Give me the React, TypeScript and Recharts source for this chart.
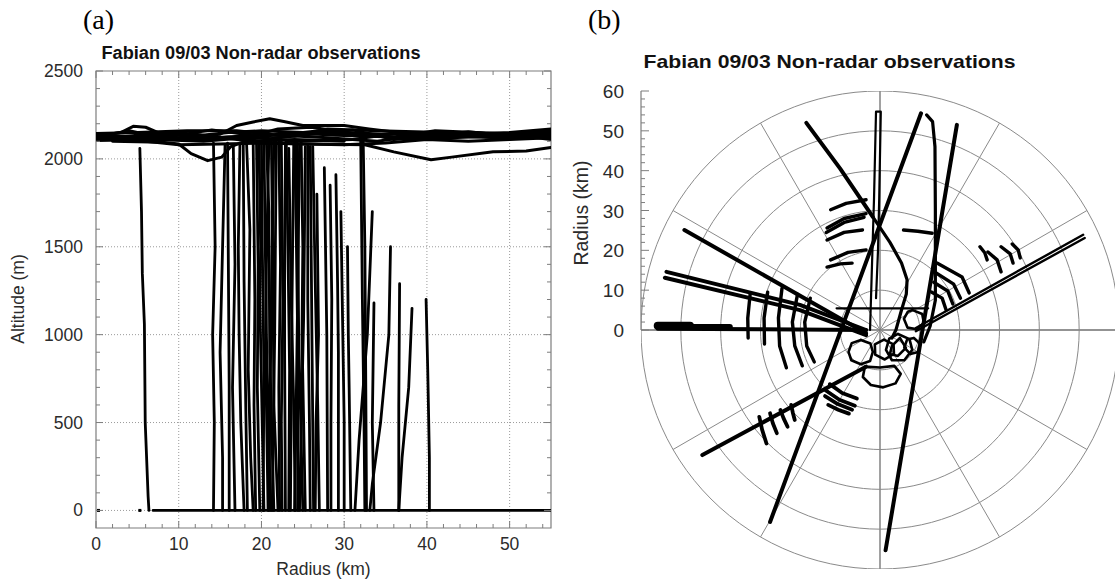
import React from "react";
import {
  ReferenceArea,
  ReferenceLine,
  Scatter,
  ScatterChart,
  XAxis,
  YAxis,
} from "recharts";

type Pt = [number, number];

// ---------- panel (a): altitude (m) against radius (km) ----------
const radiusTicks = [
  0, 2, 4, 6, 8, 10, 12, 14, 16, 18, 20, 22, 24, 26, 28, 30, 32, 34, 36, 38,
  40, 42, 44, 46, 48, 50, 52, 54,
];
const altTicks = [
  0, 100, 200, 300, 400, 500, 600, 700, 800, 900, 1000, 1100, 1200, 1300, 1400,
  1500, 1600, 1700, 1800, 1900, 2000, 2100, 2200, 2300, 2400, 2500,
];
const radiusGrid = [10, 20, 30, 40, 50];
const altGrid = [0, 500, 1000, 1500, 2000];

// flight-level legs near 2100 m
const flightLegs: Pt[][] = [
  [[0, 2130], [3, 2150], [4.5, 2185], [6, 2180], [8, 2140], [12, 2130], [16, 2150], [20, 2160], [25, 2150], [30, 2150], [35, 2140], [40, 2150], [45, 2140], [50, 2150], [55, 2170]],
  [[0, 2120], [5, 2110], [10, 2120], [15, 2140], [17, 2190], [19, 2210], [21, 2228], [23, 2210], [25, 2190], [30, 2190], [33, 2170], [40, 2130], [50, 2120], [55, 2150]],
  [[0, 2125], [4, 2160], [7, 2130], [12, 2110], [18, 2120], [22, 2170], [26, 2180], [32, 2140], [38, 2110], [44, 2125], [50, 2130], [55, 2140]],
  [[0, 2140], [6, 2100], [10, 2080], [15, 2085], [20, 2090], [25, 2085], [30, 2080], [35, 2090], [40, 2110], [45, 2100], [50, 2110], [55, 2120]],
  [[2, 2100], [8, 2095], [10, 2085], [11.5, 2030], [13.5, 1990], [15.2, 2010], [16.3, 2070], [18, 2100], [24, 2110], [30, 2100]],
  [[20, 2090], [26, 2085], [32.5, 2080], [36, 2040], [40.5, 1995], [43, 2010], [48, 2040], [52, 2045], [55, 2065]],
  [[0, 2110], [5, 2135], [10, 2150], [15, 2120], [20, 2140], [28, 2120], [34, 2100], [40, 2140], [47, 2135], [55, 2160]],
  [[0, 2115], [8, 2120], [14, 2165], [18, 2140], [24, 2130], [28, 2170], [34, 2160], [42, 2150], [48, 2120], [55, 2130]],
  [[0, 2135], [6, 2125], [12, 2140], [18, 2105], [23, 2150], [29, 2135], [36, 2125], [41, 2160], [46, 2150], [52, 2140], [55, 2155]],
  [[0, 2105], [7, 2110], [13, 2100], [19, 2125], [24, 2100], [31, 2110], [37, 2150], [42, 2115], [49, 2145], [55, 2110]],
  [[0, 2145], [5, 2150], [11, 2160], [17, 2160], [22, 2135], [27, 2160], [33, 2130], [39, 2120], [45, 2155], [51, 2125], [55, 2135]],
  [[3, 2125], [9, 2110], [16, 2125], [21, 2115], [26, 2140], [31, 2165], [36, 2110], [43, 2140], [50, 2135], [55, 2145]],
];

// dropsonde descents
const sondeProfiles: Pt[][] = [
  [[5.3, 2060], [5.5, 1700], [5.6, 1350], [5.85, 1060], [5.95, 500], [6.3, 80], [6.4, 0]],
  [[14.2, 2090], [14.4, 1500], [14.1, 1000], [14.3, 500], [14.2, 0]],
  [[15.6, 2080], [15.3, 1500], [15.0, 900], [15.3, 300], [15.3, 0]],
  [[16.6, 2070], [16.8, 1400], [16.5, 700], [16.8, 0]],
  [[17.4, 2090], [17.2, 1500], [17.3, 1000], [17.5, 500], [17.9, 0]],
  [[18.2, 2090], [18.6, 1600], [18.4, 800], [18.7, 300], [19.0, 0]],
  [[19.0, 2100], [19.2, 1200], [19.1, 600], [19.3, 0]],
  [[19.7, 2090], [19.9, 1500], [19.8, 1200], [20.3, 0]],
  [[20.3, 2100], [20.6, 1000], [20.9, 400], [21.1, 0]],
  [[20.9, 2100], [20.6, 1400], [20.5, 900], [20.8, 0]],
  [[21.2, 2100], [21.4, 1300], [21.5, 600], [22.0, 0]],
  [[21.8, 2100], [21.7, 1600], [21.6, 1000], [21.3, 0]],
  [[22.4, 2100], [22.6, 1200], [22.4, 500], [22.5, 0]],
  [[22.9, 2090], [22.8, 1300], [22.8, 900], [22.9, 0]],
  [[23.3, 2060], [23.6, 1200], [23.9, 600], [24.1, 0]],
  [[23.9, 2080], [23.7, 1200], [23.5, 0]],
  [[24.3, 2090], [24.5, 1000], [25.0, 0]],
  [[24.8, 2100], [25.0, 1500], [24.9, 1000], [25.3, 0]],
  [[25.3, 2070], [25.1, 1100], [24.6, 0]],
  [[25.9, 2070], [26.1, 1000], [26.3, 0]],
  [[26.7, 1800], [26.9, 1000], [26.6, 500], [26.5, 0]],
  [[27.6, 1950], [27.9, 1000], [28.0, 0]],
  [[29.0, 1910], [29.2, 1300], [29.3, 900], [29.3, 0]],
  [[30.4, 1500], [30.5, 1000], [30.6, 700], [30.8, 0]],
  [[32.3, 2100], [32.5, 1500], [32.6, 800], [32.7, 0]],
  [[32.0, 2100], [32.2, 1200], [32.4, 500], [32.5, 0]],
  [[33.4, 1700], [32.8, 1000], [31.8, 400], [31.3, 0]],
  [[33.6, 1180], [33.4, 500], [33.6, 0]],
  [[35.6, 1500], [35.4, 1000], [34.4, 500], [33.4, 150], [33.1, 0]],
  [[36.7, 1290], [36.6, 600], [36.6, 0]],
  [[38.2, 1150], [37.8, 700], [37.0, 300], [36.6, 0]],
  [[39.9, 1200], [40.1, 800], [40.3, 300], [40.3, 0]],
  // extra descents in the dense 17-27 km band
  [[17.8, 2080], [17.9, 1300], [18.1, 600], [18.3, 0]],
  [[19.4, 2100], [19.6, 1400], [19.5, 700], [19.8, 0]],
  [[20.0, 2100], [20.1, 1500], [20.3, 800], [20.2, 0]],
  [[20.6, 2100], [20.9, 1700], [21.0, 900], [21.5, 0]],
  [[21.5, 2100], [21.2, 1200], [21.0, 500], [20.9, 0]],
  [[22.1, 2100], [22.3, 1400], [22.1, 700], [22.2, 0]],
  [[23.0, 2100], [23.2, 1500], [23.4, 800], [23.3, 0]],
  [[24.0, 2100], [24.2, 1600], [24.4, 900], [24.4, 0]],
  [[24.6, 2080], [24.4, 1300], [24.2, 600], [24.0, 0]],
  [[25.6, 2080], [25.6, 1200], [25.8, 500], [25.9, 0]],
  [[26.2, 2070], [26.5, 1300], [26.8, 600], [27.0, 0]],
  [[15.9, 2090], [16.0, 1400], [16.1, 700], [16.1, 0]],
  [[28.3, 1850], [28.5, 1200], [28.4, 500], [28.4, 0]],
  [[29.6, 1700], [29.8, 1100], [30.0, 500], [30.0, 0]],
];

const surfaceLeg: Pt[] = [[6.9, 0], [55, 0]];
const surfaceDots: Pt[] = [[0.3, 0], [5.3, 0]];

// ---------- panel (b): tracks in storm-relative km (x east, y north) ----------
const polarTicks = [
  0, 2, 4, 6, 8, 10, 12, 14, 16, 18, 20, 22, 24, 26, 28, 30, 32, 34, 36, 38,
  40, 42, 44, 46, 48, 50, 52, 54, 56, 58, 60,
];
const ringRadii = [10, 20, 30, 40, 50, 60];
const spokeAngles = [0, 30, 60, 90, 120, 150, 180, 210, 240, 270, 300, 330];

const radialLegs: Pt[][] = [
  [[-18.5, 52], [-10, 40.5], [-1.8, 28.4]],
  [[10.3, 54.4], [-27.6, -48.2]],
  [[19.3, 51.5], [1.4, -55.3]],
  [[-49.1, 25.1], [-3.5, -0.8]],
  [[-53.6, 14.6], [-20.1, 6.3], [-3.5, 0]],
  [[-54, 13.1], [-20.1, 5.0], [-3.5, -1.3]],
  [[-44.6, -31.4], [-3.5, -9.2]],
  [[-55.8, 0.3], [-30, 0.2], [-3.5, 0]],
];
const westBar: Pt[][] = [
  [[-55.8, 1.05], [-47.7, 1.05]],
  [[-47.7, 0.75], [-37.7, 0.75]],
];
const eastLegs: Pt[][] = [
  [[51, 23.9], [9, 0.5]],
  [[51.4, 23.1], [9, -0.3]],
];
const thinLegs: Pt[][] = [
  [[-2.5, 0], [-1.9, 20], [-1.5, 33], [-1.0, 54.8], [0.2, 54.8], [-0.2, 33], [-0.5, 20], [-1.0, 8]],
  [[-10.9, 5.45], [12.1, 5.45]],
];
const curvedLegs: Pt[][] = [
  [[-1.8, 28.4], [2.5, 22], [5.4, 16.8], [6.8, 12.6], [6.6, 9], [5.4, 5], [4, 0], [3, -2]],
  [[11.7, 54], [13.2, 52.3], [13.8, 46], [13.9, 30], [13.9, 7.5], [12.6, 1], [11, -3]],
];
const loops: Pt[][] = [
  [[-4.8, -2.5], [-2.4, -3.4], [-1.8, -5.5], [-2.5, -7.8], [-4.8, -8.6], [-7.2, -7.6], [-7.9, -5.5], [-7.1, -3.3], [-4.8, -2.5]],
  [[-3.8, -9.2], [-4.3, -11.8], [-2.3, -13.8], [0.8, -14.4], [3.9, -13.4], [5.2, -11], [3.6, -9], [0, -9.4], [-3.8, -9.2]],
  [[4.5, -1], [7.4, -2.3], [8.1, -5], [6.1, -7.6], [3, -7.6], [1.5, -5], [2.3, -2.2], [4.5, -1]],
  [[8.5, -2], [10, -3.4], [9.6, -5.5], [7.6, -6], [6.1, -4.4], [6.8, -2.4], [8.5, -2]],
  [[8.2, 5], [10.6, 4], [11, 1.8], [9.3, 0.2], [6.9, 0.6], [6, 2.8], [7, 4.6], [8.2, 5]],
  [[1, -2.4], [3.4, -3.6], [3.5, -6], [1.2, -7.4], [-1.2, -6.2], [-1.3, -3.6], [1, -2.4]],
  [[3, -4], [5, -2], [6.5, -4.5], [4.5, -6.5], [2.5, -6], [3, -4]],
];
const arcsNorth: Pt[][] = [
  [[-12.4, 30.2], [-8.5, 31.8], [-3.5, 32.7]],
  [[-13.3, 25.6], [-9, 28], [-3.5, 29.2]],
  [[-13.5, 24.5], [-9, 27], [-4, 28.3]],
  [[-13.3, 22.6], [-9, 24.5], [-4.4, 25.1]],
  [[-12.4, 17.6], [-8, 19.5], [-3.5, 20.1]],
  [[-13.3, 15.8], [-10, 16.6], [-7, 16.8]],
  [[5.9, 25.1], [9.5, 24.8], [13.1, 24.3]],
];
const arcsEast: Pt[][] = [
  [[14.3, 16.8], [20.6, 13.3], [22.4, 9.3]],
  [[13.8, 14.5], [18.5, 11.5], [20.2, 8]],
  [[13.5, 12], [17, 9.8], [18.3, 6.5]],
  [[13, 9.5], [15.6, 8], [16.6, 5]],
  [[25.1, 20.9], [26.3, 19.4], [26.9, 17.6]],
  [[27.1, 19.6], [29.4, 17.6], [30.4, 14.6]],
  [[30.4, 20.9], [32.7, 19.1], [33.4, 16.8]],
  [[33.2, 21.6], [34.7, 20.1], [35.2, 18.1]],
];
const arcsWest: Pt[][] = [
  [[-32.6, 9], [-33.2, 3], [-33.1, -2]],
  [[-28.2, 9.5], [-29.1, 3], [-29, -3.5]],
  [[-24.6, 10.5], [-25.5, 3], [-25.2, -4], [-23.5, -9.5]],
  [[-20.7, 9], [-22, 2], [-21.4, -4], [-19.5, -9]],
  [[-17.5, 8], [-18.9, 2], [-18.4, -4], [-16.5, -8]],
];
const arcsSouthWest: Pt[][] = [
  [[-12.6, -13.6], [-9.5, -15.8], [-5.8, -17.2]],
  [[-13.6, -15.2], [-10.2, -17.5], [-6.3, -19]],
  [[-13.8, -16.6], [-10.6, -18.6], [-7, -20]],
  [[-13, -18.8], [-10.5, -20], [-7.8, -21]],
  [[-30.3, -21.8], [-29.6, -25], [-28.5, -28.5]],
  [[-27.6, -20.9], [-26.9, -23.4], [-25.9, -25.9]],
  [[-25, -20.1], [-24.2, -22.2], [-23.2, -24.3]],
  [[-22.3, -18.8], [-21.9, -20.7], [-21.4, -22.6]],
];

const FONT = '"Liberation Sans", Arial, Helvetica, sans-serif';
const AXIS = "#7d7d7d";
const GRID = "#8a8a8a";
const LABEL = "#2b2b2b";

// plot size of panel (a), used by ticks mirrored on top/right
const A_PLOT_W = 455;
const A_PLOT_H = 457;

const noShape = () => <g />;

function track(pts: Pt[], key: string, width: number, color = "#000") {
  return (
    <Scatter
      key={key}
      data={pts.map(([x, y]) => ({ x, y }))}
      line={{
        stroke: color,
        strokeWidth: width,
        strokeLinejoin: "round",
        strokeLinecap: "round",
      }}
      shape={noShape}
      isAnimationActive={false}
    />
  );
}

function ringPoints(r: number): Pt[] {
  const pts: Pt[] = [];
  for (let a = 0; a <= 360; a += 3) {
    const t = (a * Math.PI) / 180;
    pts.push([r * Math.cos(t), r * Math.sin(t)]);
  }
  return pts;
}

function AXTick(props: any) {
  const { x, y, payload } = props;
  const v = payload.value;
  const major = v % 10 === 0;
  const len = major ? 7 : 4;
  return (
    <g>
      <line x1={x} y1={y} x2={x} y2={y - len} stroke={AXIS} />
      <line x1={x} y1={y - A_PLOT_H} x2={x} y2={y - A_PLOT_H + len} stroke={AXIS} />
      {major && (
        <text x={x} y={y + 22} textAnchor="middle" fontSize={17.5} fontFamily={FONT} fill={LABEL}>
          {v}
        </text>
      )}
    </g>
  );
}

function AYTick(props: any) {
  const { x, y, payload } = props;
  const v = payload.value;
  const major = v % 500 === 0;
  const len = major ? 7 : 4;
  return (
    <g>
      <line x1={x} y1={y} x2={x + len} y2={y} stroke={AXIS} />
      <line x1={x + A_PLOT_W} y1={y} x2={x + A_PLOT_W - len} y2={y} stroke={AXIS} />
      {major && (
        <text x={x - 13} y={y + 6} textAnchor="end" fontSize={17.5} fontFamily={FONT} fill={LABEL}>
          {v}
        </text>
      )}
    </g>
  );
}

function BYTick(props: any) {
  const { x, y, payload } = props;
  const v = payload.value;
  const major = v % 10 === 0;
  const len = major ? 8 : 4;
  return (
    <g>
      <line x1={x} y1={y} x2={x + len} y2={y} stroke={AXIS} />
      {major && (
        <text x={x - 17} y={y + 7} textAnchor="end" fontSize={19} fontFamily={FONT} fill={LABEL}>
          {v}
        </text>
      )}
    </g>
  );
}

function AltitudePanel() {
  return (
    <ScatterChart width={568} height={584} margin={{ top: 71, right: 17, bottom: 0, left: 0 }}>
      <XAxis
        type="number"
        dataKey="x"
        domain={[0, 55]}
        ticks={radiusTicks}
        interval={0}
        allowDataOverflow
        height={56}
        axisLine={false}
        tickLine={false}
        tickSize={0}
        tickMargin={0}
        tick={(p: any) => <AXTick {...p} />}
      />
      <YAxis
        type="number"
        dataKey="y"
        domain={[-100, 2500]}
        ticks={altTicks}
        interval={0}
        allowDataOverflow
        width={96}
        axisLine={false}
        tickLine={false}
        tickSize={0}
        tickMargin={0}
        tick={(p: any) => <AYTick {...p} />}
      />
      {radiusGrid.map((v) => (
        <ReferenceLine key={`gx${v}`} x={v} stroke="#9a9a9a" strokeDasharray="1 2" />
      ))}
      {altGrid.map((v) => (
        <ReferenceLine key={`gy${v}`} y={v} stroke="#9a9a9a" strokeDasharray="1 2" />
      ))}
      <ReferenceArea x1={0} x2={55} y1={-100} y2={2500} fill="none" stroke={AXIS} strokeWidth={1.2} />
      {flightLegs.map((p, i) => track(p, `fl${i}`, 3))}
      {sondeProfiles.map((p, i) => track(p, `sd${i}`, 2.8))}
      {track(surfaceLeg, "sfc", 2.8)}
      <Scatter
        data={surfaceDots.map(([x, y]) => ({ x, y }))}
        fill="#000"
        shape={(p: any) => <rect x={p.cx - 1.5} y={p.cy - 1.5} width={3} height={3} fill="#000" />}
        isAnimationActive={false}
      />
    </ScatterChart>
  );
}

function PolarPanel() {
  return (
    <ScatterChart width={559} height={584} margin={{ top: 91, right: 0, bottom: 15, left: 0 }}>
      <XAxis type="number" dataKey="x" domain={[-60, 60]} allowDataOverflow hide />
      <YAxis
        type="number"
        dataKey="y"
        domain={[-60, 60]}
        ticks={polarTicks}
        interval={0}
        allowDataOverflow
        width={81}
        axisLine={false}
        tickLine={false}
        tickSize={0}
        tickMargin={0}
        tick={(p: any) => <BYTick {...p} />}
      />
      {spokeAngles.map((a) => {
        const t = (a * Math.PI) / 180;
        return (
          <ReferenceLine
            key={`sp${a}`}
            segment={[
              { x: 0, y: 0 },
              { x: 60 * Math.cos(t), y: 60 * Math.sin(t) },
            ]}
            stroke={a % 90 === 0 ? "#6f6f6f" : GRID}
            strokeWidth={a % 90 === 0 ? 1.3 : 1}
            ifOverflow="visible"
          />
        );
      })}
      <ReferenceLine
        segment={[
          { x: -60, y: 0 },
          { x: -60, y: 60 },
        ]}
        stroke={AXIS}
        strokeWidth={1.2}
        ifOverflow="visible"
      />
      {ringRadii.map((r) => track(ringPoints(r), `rg${r}`, 1, GRID))}
      {radialLegs.map((p, i) => track(p, `rl${i}`, 4))}
      {westBar.map((p, i) => track(p, `wb${i}`, i === 0 ? 8 : 6))}
      {eastLegs.map((p, i) => track(p, `el${i}`, 2.4))}
      {thinLegs.map((p, i) => track(p, `tl${i}`, 2.2))}
      {curvedLegs.map((p, i) => track(p, `cl${i}`, 3.2))}
      {loops.map((p, i) => track(p, `lp${i}`, 2.6))}
      {arcsNorth.map((p, i) => track(p, `an${i}`, 3.4))}
      {arcsEast.map((p, i) => track(p, `ae${i}`, 3.4))}
      {arcsWest.map((p, i) => track(p, `aw${i}`, 3.4))}
      {arcsSouthWest.map((p, i) => track(p, `as${i}`, 3.8))}
    </ScatterChart>
  );
}

export default function App() {
  return (
    <div
      style={{
        position: "fixed",
        left: 0,
        top: 0,
        width: 1115,
        height: 584,
        overflow: "hidden",
        background: "#fff",
      }}
    >
      <div style={{ position: "absolute", left: 0, top: 0 }}>
        <AltitudePanel />
      </div>
      <div style={{ position: "absolute", left: 560, top: 0 }}>
        <PolarPanel />
      </div>
      <svg
        width={1115}
        height={584}
        style={{ position: "absolute", left: 0, top: 0, pointerEvents: "none" }}
      >
        <text x={83} y={29} fontSize={28} fontFamily='"Liberation Serif", "Times New Roman", serif' fill="#000">
          (a)
        </text>
        <text x={588} y={29} fontSize={28} fontFamily='"Liberation Serif", "Times New Roman", serif' fill="#000">
          (b)
        </text>
        <text
          x={101.5}
          y={58.5}
          fontSize={18}
          fontWeight="bold"
          fontFamily={FONT}
          fill="#111"
          textLength={319}
          lengthAdjust="spacingAndGlyphs"
        >
          Fabian 09/03 Non-radar observations
        </text>
        <text
          x={643.5}
          y={68}
          fontSize={19}
          fontWeight="bold"
          fontFamily={FONT}
          fill="#111"
          textLength={372}
          lengthAdjust="spacingAndGlyphs"
        >
          Fabian 09/03 Non-radar observations
        </text>
        <text
          x={18}
          y={299}
          fontSize={17.5}
          fontFamily={FONT}
          fill={LABEL}
          textAnchor="middle"
          dominantBaseline="central"
          transform="rotate(-90 18 299)"
        >
          Altitude (m)
        </text>
        <text x={323.5} y={575} fontSize={17.5} fontFamily={FONT} fill={LABEL} textAnchor="middle">
          Radius (km)
        </text>
        <text
          x={581}
          y={213}
          fontSize={19.5}
          fontFamily={FONT}
          fill={LABEL}
          textAnchor="middle"
          dominantBaseline="central"
          transform="rotate(-90 581 213)"
        >
          Radius (km)
        </text>
      </svg>
    </div>
  );
}
